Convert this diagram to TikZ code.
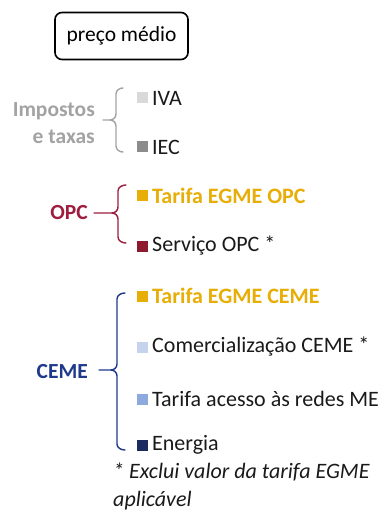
\documentclass[tikz,border=0pt]{standalone}
\usepackage{fontspec}
\setmainfont{Carlito}
\definecolor{grlab}{HTML}{A3A3A3}
\definecolor{sqiva}{HTML}{D9D9D9}
\definecolor{sqiec}{HTML}{8C8C8C}
\definecolor{opcred}{HTML}{9E1C3E}
\definecolor{sqserv}{HTML}{8E1A30}
\definecolor{gold}{HTML}{E8AE08}
\definecolor{cemeblue}{HTML}{1F3A8C}
\definecolor{sqcom}{HTML}{C5D3EF}
\definecolor{sqtar}{HTML}{8EA9DE}
\definecolor{sqene}{HTML}{1C2C60}
\definecolor{txt}{HTML}{1A1A1A}
\tikzset{
  itemtxt/.style={anchor=west, inner sep=0pt, font=\fontsize{22}{22}\selectfont, text=txt},
  itembold/.style={itemtxt, font=\fontsize{22}{22}\selectfont\bfseries},
  sq/.style={minimum size=11pt, inner sep=0pt, draw=none, anchor=center},
  grplab/.style={inner sep=0pt, font=\fontsize{21.5}{27}\selectfont\bfseries, align=right},
  bracepath/.style={line width=1.4pt, line cap=round}
}
\newcommand{\brc}[7]{% color, xr, xv, xs, ytop, ymid, ybot
  \draw[bracepath,#1] (#2,#5) to[out=180,in=90] (#3,#5+6) -- (#3,#6-6)
    to[out=-90,in=0] (#3-6,#6) -- (#4,#6);
  \draw[bracepath,#1] (#3-6,#6) to[out=0,in=90] (#3,#6+6) -- (#3,#7-6)
    to[out=-90,in=180] (#2,#7);
}
\begin{document}
\begin{tikzpicture}[x=1pt,y=-1pt]
\useasboundingbox[fill=white] (0,0) rectangle (383,526);
% title box
\node[draw=black, line width=1.6pt, rounded corners=7pt, minimum width=133pt, minimum height=47pt,
  font=\fontsize{21.5}{21.5}\selectfont, inner sep=0pt] (title) at (121.5,36) {preço médio};

% Impostos e taxas
\node[grplab, text=grlab, anchor=east] (imp) at (95,123) {Impostos\\e taxas};
\brc{grlab}{123}{116}{103}{88}{120}{152}
\node[sq, fill=sqiva] (sqiva) at (142.5,98) {};
\node[itemtxt] (iva) at (152,98) {IVA};
\node[sq, fill=sqiec] (sqiec) at (142.5,147) {};
\node[itemtxt] (iec) at (152,147) {IEC};

% OPC
\node[grplab, text=opcred, anchor=east] (opc) at (88,213) {OPC};
\brc{opcred}{126}{118}{94}{185}{213}{243}
\node[sq, fill=gold] (sqegopc) at (142.5,196) {};
\node[itembold, text=gold] (egopc) at (152,196) {Tarifa EGME OPC};
\node[sq, fill=sqserv] (sqserv) at (142.5,246) {};
\node[itemtxt] (serv) at (152,246) {Serviço OPC *};

% CEME
\node[grplab, text=cemeblue, anchor=east] (ceme) at (88,372) {CEME};
\brc{cemeblue}{125}{117}{99}{293}{370}{450}
\node[sq, fill=gold] (sqegceme) at (142.5,296) {};
\node[itembold, text=gold] (egceme) at (152,296) {Tarifa EGME CEME};
\node[sq, fill=sqcom] (sqcom) at (142.5,347) {};
\node[itemtxt] (com) at (152,347) {Comercialização CEME *};
\node[sq, fill=sqtar] (sqtar) at (142.5,399) {};
\node[itemtxt] (tar) at (152,399) {Tarifa acesso às redes ME};
\node[sq, fill=sqene] (sqene) at (142.5,445) {};
\node[itemtxt] (ene) at (152,445) {Energia};

% footnote
\node[anchor=north west, inner sep=0pt, align=left, text=txt,
  font=\fontsize{22}{28}\selectfont\itshape] (note) at (113,463) {* Exclui valor da tarifa EGME\\aplicável};
\end{tikzpicture}
\end{document}
